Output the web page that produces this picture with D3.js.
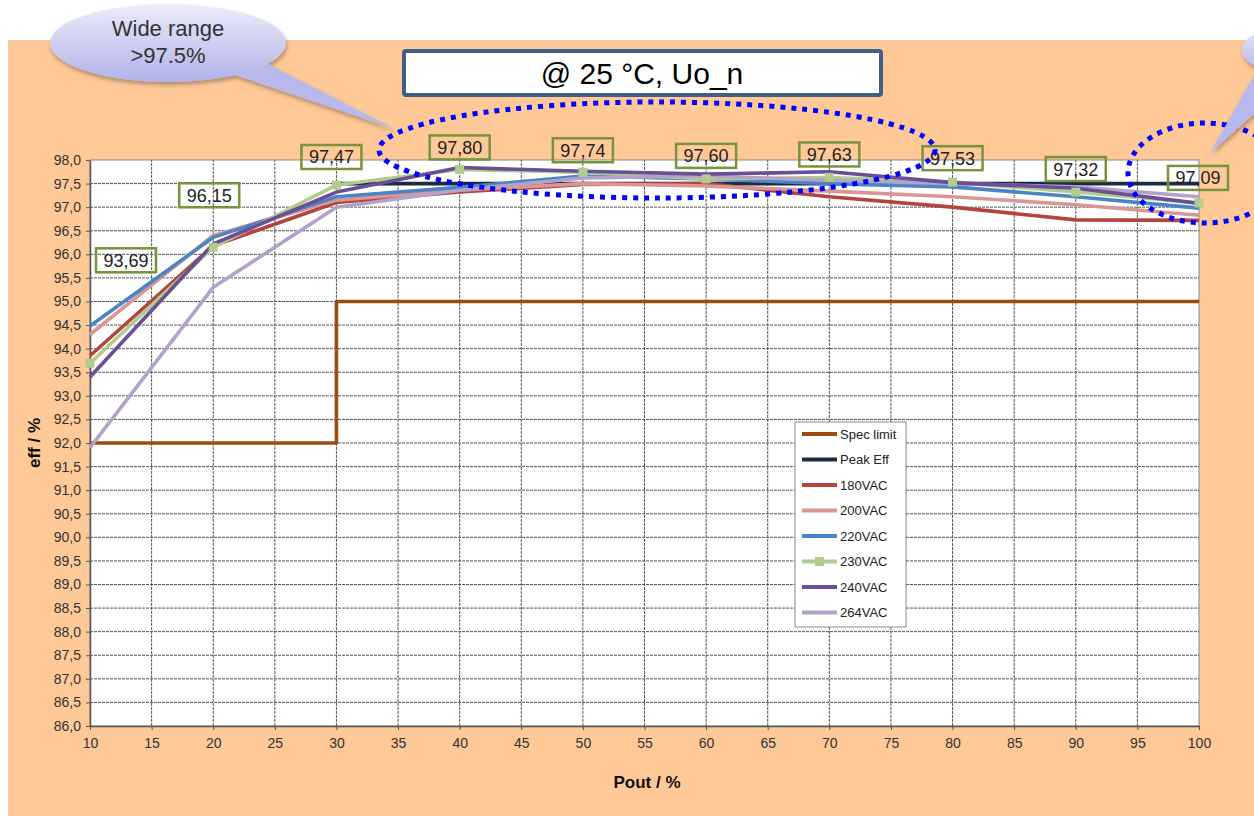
<!DOCTYPE html>
<html>
<head>
    <meta charset="utf-8">
    <title>efficiency chart</title>
    <script type="text/javascript" src="https://cdn.jsdelivr.net/npm/d3@7"></script>
    <style>
      body { margin: 0; background: #fff; }
      text { font-family: "Liberation Sans", Arial, sans-serif; }
    </style>
</head>
<body>
<script type="text/javascript">

        var width = 1254
        var height = 816

        // load points (Pout / %)
        var pout = [10, 20, 30, 40, 50, 60, 70, 80, 90, 100]

        // efficiency per input voltage
        var eff180 = [93.85, 96.18, 97.10, 97.32, 97.48, 97.50, 97.22, 97.00, 96.73, 96.72]
        var eff200 = [94.30, 96.40, 97.15, 97.36, 97.50, 97.45, 97.34, 97.22, 97.05, 96.83]
        var eff220 = [94.48, 96.36, 97.22, 97.42, 97.66, 97.60, 97.50, 97.43, 97.22, 96.98]
        var eff230 = [93.69, 96.15, 97.47, 97.80, 97.74, 97.60, 97.63, 97.53, 97.32, 97.09]
        var eff240 = [93.40, 96.22, 97.32, 97.84, 97.76, 97.70, 97.75, 97.52, 97.40, 97.08]
        var eff264 = [91.90, 95.30, 97.00, 97.36, 97.62, 97.66, 97.57, 97.50, 97.43, 97.22]

        // spec limit (step) and peak efficiency line
        var specX = [10, 30, 30, 100]
        var specY = [92, 92, 95, 95]
        var peakX = [30, 100]
        var peakY = [97.5, 97.5]

        var legendNames = ["Spec limit", "Peak Eff", "180VAC", "200VAC", "220VAC", "230VAC", "240VAC", "264VAC"]
        var colors = ["#9e4b10", "#1c2b45", "#b4443f", "#d99694", "#4a84c4", "#b1cc8c", "#6a4e96", "#b3a2c9"]

        var yTicks = d3.range(86, 98.01, 0.5)
        var xTicks = d3.range(10, 100.1, 5)

        var svg = d3.select("body").append("svg").attr("width", width).attr("height", height)

        var defs = svg.append("defs")
        var grad = defs.append("linearGradient").attr("id", "bubble").attr("x1", 0).attr("y1", 0).attr("x2", 0).attr("y2", 1)
        grad.append("stop").attr("offset", "0%").attr("stop-color", "#ececfa")
        grad.append("stop").attr("offset", "100%").attr("stop-color", "#b2b2ea")
        var shadow = defs.append("filter").attr("id", "shadow").attr("x", "-20%").attr("y", "-20%").attr("width", "140%").attr("height", "160%")
        shadow.append("feDropShadow").attr("dx", 1).attr("dy", 3).attr("stdDeviation", 2).attr("flood-color", "#000").attr("flood-opacity", 0.3)
        defs.append("clipPath").attr("id", "pageclip").append("rect").attr("x", 0).attr("y", 0).attr("width", width).attr("height", height)

        // orange slide panel
        svg.append("rect").attr("x", 8).attr("y", 40).attr("width", width - 8).attr("height", height - 40).attr("fill", "#fec997")

        var x = d3.scaleLinear().domain([10, 100]).range([90, 1199])
        var y = d3.scaleLinear().domain([86, 98]).range([726, 160])

        // plot area
        svg.append("rect")
            .attr("x", x(10)).attr("y", y(98))
            .attr("width", x(100) - x(10)).attr("height", y(86) - y(98))
            .attr("fill", "#fff").attr("stroke", "#8a8a8a")

        // grid
        svg.append("g").selectAll("line").data(yTicks.filter(d => d > 86 && d < 98)).enter().append("line")
            .attr("x1", x(10)).attr("x2", x(100))
            .attr("y1", d => y(d)).attr("y2", d => y(d))
            .attr("stroke", "#555").attr("stroke-width", 1).attr("stroke-dasharray", "3,1")
        svg.append("g").selectAll("line").data(xTicks.filter(d => d > 10 && d < 100)).enter().append("line")
            .attr("y1", y(86)).attr("y2", y(98))
            .attr("x1", d => x(d)).attr("x2", d => x(d))
            .attr("stroke", "#555").attr("stroke-width", 1).attr("stroke-dasharray", "3,1")

        // axes
        var yAxis = svg.append("g").attr("transform", "translate(" + x(10) + ",0)")
            .call(d3.axisLeft(y).tickValues(yTicks).tickSize(4).tickSizeOuter(0)
                .tickFormat(d => d.toFixed(1).replace(".", ",")))
        var xAxis = svg.append("g").attr("transform", "translate(0," + y(86) + ")")
            .call(d3.axisBottom(x).tickValues(xTicks).tickSize(4).tickSizeOuter(0))
        ;[yAxis, xAxis].forEach(function(a) {
            a.select(".domain").attr("stroke", "#555").attr("stroke-width", 1.5)
            a.selectAll(".tick line").attr("stroke", "#555")
            a.selectAll(".tick text").attr("fill", "#333").attr("font-size", 14)
                .attr("font-family", "'Liberation Sans', Arial, sans-serif")
        })
        xAxis.selectAll(".tick text").attr("dy", "1.1em")
        yAxis.selectAll(".tick text").attr("x", -9)

        svg.append("text").attr("transform", "translate(40," + y(92) + ") rotate(-90)")
            .attr("text-anchor", "middle").attr("font-size", 17).attr("font-weight", "bold").attr("fill", "#111")
            .text("eff / %")
        svg.append("text").attr("x", 647).attr("y", 788)
            .attr("text-anchor", "middle").attr("font-size", 17).attr("font-weight", "bold").attr("fill", "#111")
            .text("Pout / %")

        // series
        var line = d3.line().x(d => x(d[0])).y(d => y(d[1]))
        var series = [
            d3.zip(specX, specY),
            d3.zip(peakX, peakY),
            d3.zip(pout, eff180),
            d3.zip(pout, eff200),
            d3.zip(pout, eff220),
            d3.zip(pout, eff230),
            d3.zip(pout, eff264),
            d3.zip(pout, eff240)
        ]
        var seriesColors = [colors[0], colors[1], colors[2], colors[3], colors[4], colors[5], colors[7], colors[6]]
        series.forEach(function(s, i) {
            svg.append("path")
                .attr("d", line(s))
                .attr("fill", "none")
                .attr("stroke", seriesColors[i])
                .attr("stroke-width", 3.6)
                .attr("stroke-linejoin", "round")
        })
        // 230VAC markers
        svg.append("g").selectAll("rect").data(d3.zip(pout, eff230)).enter().append("rect")
            .attr("x", d => x(d[0]) - 4.5).attr("y", d => y(d[1]) - 4.5)
            .attr("width", 9).attr("height", 9).attr("fill", colors[5])

        // legend
        var lg = svg.append("g").attr("transform", "translate(795,422)")
        lg.append("rect").attr("width", 111).attr("height", 205).attr("fill", "#fff").attr("stroke", "#8a8a8a")
        legendNames.forEach(function(name, i) {
            var ly = 12 + i * 25.5
            lg.append("line").attr("x1", 7).attr("x2", 42).attr("y1", ly).attr("y2", ly)
                .attr("stroke", colors[i]).attr("stroke-width", 4)
            if (name == "230VAC") {
                lg.append("rect").attr("x", 20).attr("y", ly - 4.5).attr("width", 9).attr("height", 9).attr("fill", colors[i])
            }
            lg.append("text").attr("x", 45).attr("y", ly + 4.5).attr("font-size", 13).attr("fill", "#222").text(name)
        })

        // value labels for 230VAC
        var labelDx = [36, -4, -5, 0, 0, 0, 0, 0, 0, -1]
        var labelDy = [-103, -52, -28, -22, -22, -23, -23, -24, -23, -25]
        var labels = svg.append("g")
        pout.forEach(function(p, i) {
            var cx = x(p) + labelDx[i]
            var cy = y(eff230[i]) + labelDy[i]
            labels.append("rect").attr("x", cx - 30).attr("y", cy - 12).attr("width", 60).attr("height", 24)
                .attr("fill", "none").attr("stroke", "#77933c").attr("stroke-width", 2.5)
            labels.append("text").attr("x", cx).attr("y", cy + 6.5).attr("text-anchor", "middle")
                .attr("font-size", 18).attr("fill", "#222").text(eff230[i].toFixed(2).replace(".", ","))
        })

        // dotted highlight ellipses
        svg.append("ellipse").attr("cx", 657).attr("cy", 150).attr("rx", 278).attr("ry", 48)
            .attr("fill", "none").attr("stroke", "#0000ff").attr("stroke-width", 5).attr("stroke-dasharray", "5,6")
        svg.append("ellipse").attr("cx", 1205).attr("cy", 173).attr("rx", 77).attr("ry", 50)
            .attr("fill", "none").attr("stroke", "#0000ff").attr("stroke-width", 5).attr("stroke-dasharray", "5,6")

        // callouts
        var callouts = svg.append("g").attr("clip-path", "url(#pageclip)")
        var c1 = callouts.append("g").attr("filter", "url(#shadow)")
        c1.append("path").attr("d", "M232,74 L268,64 L395,129 Z").attr("fill", "#b8b8ec")
        c1.append("ellipse").attr("cx", 168).attr("cy", 43).attr("rx", 118).attr("ry", 39).attr("fill", "url(#bubble)")
        svg.append("text").attr("x", 168).attr("y", 36).attr("text-anchor", "middle").attr("font-size", 22).attr("fill", "#333").text("Wide range")
        svg.append("text").attr("x", 168).attr("y", 63).attr("text-anchor", "middle").attr("font-size", 22).attr("fill", "#333").text(">97.5%")

        var c2 = callouts.append("g").attr("filter", "url(#shadow)")
        c2.append("path").attr("d", "M1256,72 L1275,95 L1210,153 Z").attr("fill", "#b8b8ec")
        c2.append("ellipse").attr("cx", 1312).attr("cy", 50).attr("rx", 70).attr("ry", 28).attr("fill", "url(#bubble)")

        // title box
        svg.append("rect").attr("x", 404).attr("y", 51).attr("width", 477).attr("height", 44).attr("rx", 2)
            .attr("fill", "#fff").attr("stroke", "#3f5f8a").attr("stroke-width", 4)
        svg.append("text").attr("x", 642).attr("y", 84).attr("text-anchor", "middle")
            .attr("font-size", 30).attr("fill", "#000").text("@ 25 °C, Uo_n")

</script>
</body>
</html>
